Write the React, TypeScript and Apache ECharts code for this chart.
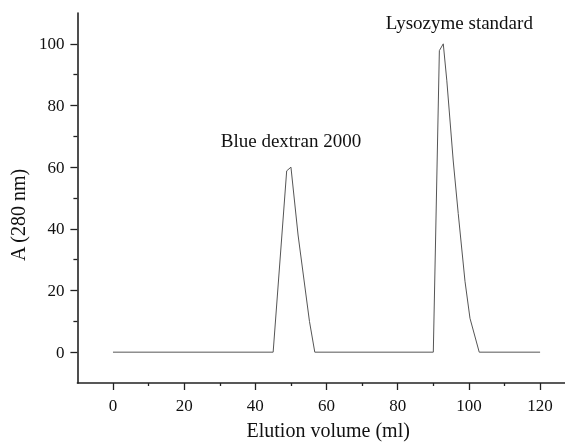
import React, { useEffect, useRef } from "react";
import * as echarts from "echarts";

const elutionVolume: number[] = [0, 45, 48.8, 50, 52, 55.2, 56.7, 90, 91.7, 92.8, 93.8, 95.6, 97, 98.9, 100.3, 102.9, 120];
const absorbance: number[] = [0, 0, 58.8, 60, 38, 10, 0, 0, 97.8, 100, 88, 62, 45, 23, 11, 0, 0];

const xMajorTicks: number[] = [0, 20, 40, 60, 80, 100, 120];
const xMinorTicks: number[] = [10, 30, 50, 70, 90, 110];
const yMajorTicks: number[] = [0, 20, 40, 60, 80, 100];
const yMinorTicks: number[] = [10, 30, 50, 70, 90];

const peakNames: string[] = ["Blue dextran 2000", "Lysozyme standard"];
const peakPositions: [number, number][] = [[50, 60], [92.8, 100]];

const FONT = "Liberation Serif";
const AXIS_COLOR = "#222";

export default function App() {
  const ref = useRef<HTMLDivElement>(null);
  useEffect(() => {
    if (!ref.current) return;
    const chart = echarts.init(ref.current, undefined, { renderer: "svg" });
    const data = elutionVolume.map((x, i) => [x, absorbance[i]]);
    const xBase = { type: "value", min: -10, max: 127, position: "bottom", splitLine: { show: false } };
    const yBase = { type: "value", min: -10, max: 110, position: "left", splitLine: { show: false } };
    chart.setOption({
      animation: false,
      grid: { left: 77, top: 13, right: 0, bottom: 60 },
      xAxis: [
        {
          ...xBase,
          name: "Elution volume (ml)",
          nameLocation: "middle",
          nameGap: 37,
          nameTextStyle: { fontFamily: FONT, fontSize: 20, color: "#111", padding: [0, 0, 0, 14] },
          axisLine: { show: true, onZero: false, lineStyle: { color: AXIS_COLOR, width: 1.6 } },
          axisTick: { show: true, inside: false, length: 7, customValues: xMajorTicks, lineStyle: { color: AXIS_COLOR, width: 1.3 } },
          axisLabel: { fontFamily: FONT, fontSize: 17, color: "#111", margin: 14, customValues: xMajorTicks },
        },
        {
          ...xBase,
          axisLine: { show: false, onZero: false },
          axisTick: { show: true, inside: false, length: 3, customValues: xMinorTicks, lineStyle: { color: AXIS_COLOR, width: 1.3 } },
          axisLabel: { show: false },
        },
      ],
      yAxis: [
        {
          ...yBase,
          name: "A (280 nm)",
          nameLocation: "middle",
          nameGap: 49,
          nameTextStyle: { fontFamily: FONT, fontSize: 20, color: "#111", padding: [0, 34, 0, 0] },
          axisLine: { show: true, onZero: false, lineStyle: { color: AXIS_COLOR, width: 1.6 } },
          axisTick: { show: true, inside: false, length: 7, customValues: yMajorTicks, lineStyle: { color: AXIS_COLOR, width: 1.3 } },
          axisLabel: { fontFamily: FONT, fontSize: 17, color: "#111", margin: 13, customValues: yMajorTicks },
        },
        {
          ...yBase,
          axisLine: { show: false, onZero: false },
          axisTick: { show: true, inside: false, length: 4, customValues: yMinorTicks, lineStyle: { color: AXIS_COLOR, width: 1.3 } },
          axisLabel: { show: false },
        },
      ],
      series: [
        {
          type: "line",
          xAxisIndex: 0,
          yAxisIndex: 0,
          data,
          symbol: "none",
          lineStyle: { color: "#555", width: 1 },
          markPoint: {
            symbol: "circle",
            symbolSize: 0,
            data: [
              {
                coord: peakPositions[0],
                label: {
                  show: true,
                  formatter: peakNames[0],
                  position: "top",
                  distance: 17,
                  fontFamily: FONT,
                  fontSize: 19,
                  color: "#111",
                },
              },
              {
                coord: peakPositions[1],
                label: {
                  show: true,
                  formatter: peakNames[1],
                  position: "top",
                  distance: 12,
                  offset: [16, 0],
                  fontFamily: FONT,
                  fontSize: 19,
                  color: "#111",
                },
              },
            ],
          },
        },
      ],
    });
    return () => chart.dispose();
  }, []);
  return <div ref={ref} style={{ position: "fixed", left: 0, top: 0, width: 565, height: 445 }} />;
}
